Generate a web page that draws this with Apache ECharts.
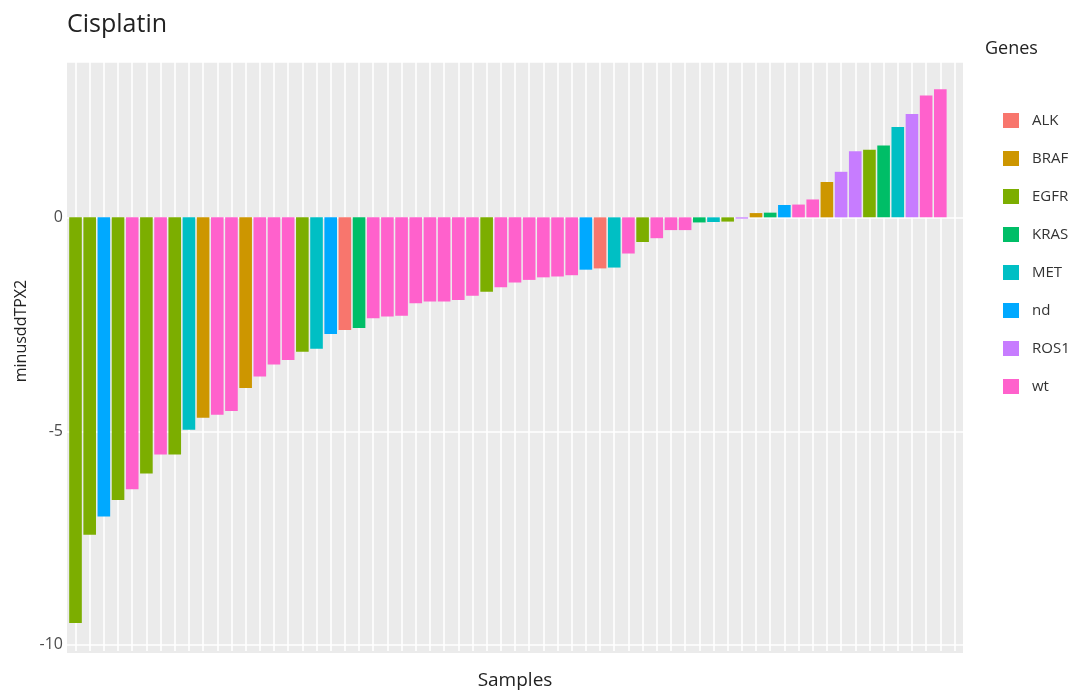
<!DOCTYPE html>
<html><head><meta charset="utf-8">
<script src="https://cdn.jsdelivr.net/npm/echarts@6/dist/echarts.min.js"></script>
<style>html,body{margin:0;padding:0;background:#fff}#c{width:1085px;height:695px}</style>
</head><body><div id="c"></div>
<script>
const genes = ['ALK','BRAF','EGFR','KRAS','MET','nd','ROS1','wt'];
const geneColors = ['#F8766D','#CD9600','#7CAE00','#00BE67','#00BFC4','#00A9FF','#C77CFF','#FF61CC'];
const sampleGenes = [
  'EGFR','EGFR','nd','EGFR','wt','EGFR','wt','EGFR','MET','BRAF',
  'wt','wt','BRAF','wt','wt','wt','EGFR','MET','nd','ALK',
  'KRAS','wt','wt','wt','wt','wt','wt','wt','wt','EGFR',
  'wt','wt','wt','wt','wt','wt','nd','ALK','MET','wt',
  'EGFR','wt','wt','wt','KRAS','MET','EGFR','ROS1','BRAF','KRAS',
  'nd','wt','wt','BRAF','ROS1','ROS1','EGFR','KRAS','MET','ROS1',
  'wt','wt',null
];
const values = [
  -9.53,-7.46,-7.03,-6.64,-6.39,-6.02,-5.57,-5.57,-4.99,-4.71,
  -4.64,-4.55,-4.01,-3.74,-3.46,-3.35,-3.16,-3.09,-2.74,-2.65,
  -2.60,-2.37,-2.33,-2.31,-2.02,-1.98,-1.98,-1.94,-1.84,-1.75,
  -1.64,-1.53,-1.47,-1.41,-1.39,-1.36,-1.23,-1.20,-1.18,-0.85,
  -0.58,-0.49,-0.30,-0.30,-0.12,-0.11,-0.10,-0.03,0.10,0.11,
  0.29,0.30,0.42,0.83,1.07,1.55,1.59,1.69,2.12,2.43,
  2.86,3.01,null
];
const yTickLabels = ['-10','-5','0'];
const yMin = -10.19, yMax = 3.65;

const FONT = '"Open Sans", "Noto Sans", sans-serif';
const PL = 67, PT = 62, PW = 896, PH = 591;
const nCat = values.length;
const unit = PW / (nCat + 0.2);
const pxPerVal = PH / (yMax - yMin);
const gridLineH = PH - ( -10 - yMin) * pxPerVal;

const series = genes.map((g, gi) => ({
  name: g,
  type: 'bar',
  xAxisIndex: 2, yAxisIndex: 2,
  barWidth: unit * 0.89,
  barGap: '-100%',
  clip: false,
  itemStyle: { color: geneColors[gi] },
  emphasis: { disabled: true },
  data: values.map((v, i) => sampleGenes[i] === g ? [i + 1, v] : null).filter(d => d)
}));

const chart = echarts.init(document.getElementById('c'), null, { renderer: 'canvas' });
chart.setOption({
  animation: false,
  backgroundColor: '#ffffff',
  textStyle: { fontFamily: FONT },
  title: [
    { text: 'Cisplatin', left: 67, top: 12, padding: 0, textStyle: { fontFamily: FONT, fontSize: 25, fontWeight: 'normal', color: '#222' } },
    { text: 'Genes', left: 985, top: 40, padding: 0, textStyle: { fontFamily: FONT, fontSize: 18, fontWeight: 'normal', color: '#222' } }
  ],
  legend: {
    data: genes, orient: 'vertical', left: 1003, top: 113, padding: 0,
    itemWidth: 16, itemHeight: 15, itemGap: 23, icon: 'rect', selectedMode: false,
    textStyle: { fontFamily: FONT, fontSize: 15, color: '#333', padding: [0, 0, 0, 8] }
  },
  grid: [
    { left: PL, top: PT, width: PW, height: PH, show: true, backgroundColor: '#EBEBEB', borderWidth: 0, containLabel: false },
    { left: PL, top: PT, width: PW, height: gridLineH, show: false, containLabel: false },
    { left: PL + 0.6 * unit, top: PT, width: (nCat - 1) * unit, height: PH, show: false, containLabel: false }
  ],
  xAxis: [
    { gridIndex: 0, type: 'value', min: 0, max: 1, show: false },
    { gridIndex: 1, type: 'value', min: 0, max: 1, show: false },
    { gridIndex: 2, type: 'value', min: 1, max: nCat, interval: 1,
      axisLine: { show: false }, axisTick: { show: false }, axisLabel: { show: false },
      splitLine: { show: true, lineStyle: { color: '#ffffff', width: 1.6 } },
      name: 'Samples', nameLocation: 'middle', nameGap: 20,
      nameTextStyle: { fontFamily: FONT, fontSize: 19, color: '#222' } }
  ],
  yAxis: [
    { gridIndex: 0, type: 'value', min: 0, max: 1, show: false },
    { gridIndex: 1, type: 'value', min: -10, max: yMax, interval: 5,
      axisLine: { show: false }, axisTick: { show: false },
      axisLabel: { margin: 4, fontFamily: FONT, fontSize: 16, color: '#4d4d4d',
        formatter: v => (v <= 0 && yTickLabels.indexOf(String(v)) >= 0) ? String(v) : '' },
      splitLine: { show: true, lineStyle: { color: '#ffffff', width: 1.6 } } },
    { gridIndex: 2, type: 'value', min: yMin, max: yMax, show: false, splitLine: { show: false } }
  ],
  graphic: [
    { type: 'text', x: 21, y: 331, rotation: Math.PI / 2,
      style: { text: 'minusddTPX2', fontFamily: FONT, fontSize: 16, fill: '#222', align: 'center', verticalAlign: 'middle' } }
  ],
  series: series
});
</script></body></html>
